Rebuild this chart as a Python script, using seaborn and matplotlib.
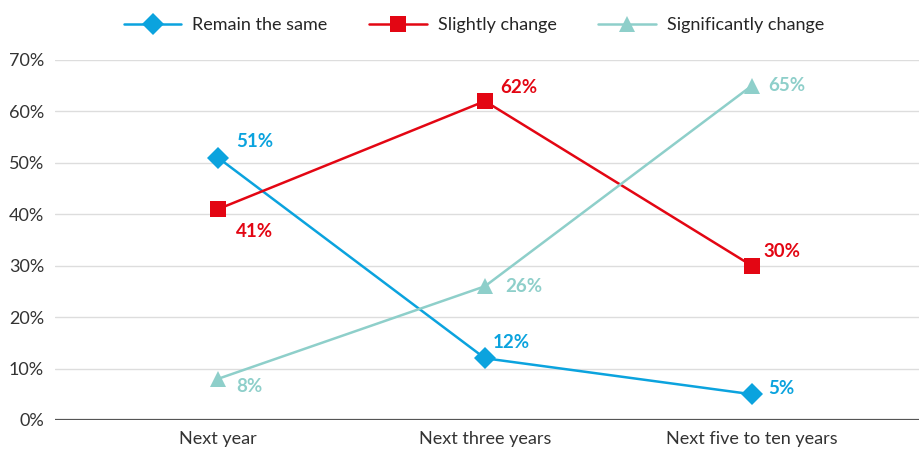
import numpy as np
import pandas as pd
import matplotlib
matplotlib.use("Agg")
import matplotlib.pyplot as plt
import seaborn as sns

# 数据
periods = ["Next year", "Next three years", "Next five to ten years"]
series_names = ["Remain the same", "Slightly change", "Significantly change"]
remain_same = [51, 12, 5]
slightly_change = [41, 62, 30]
significantly_change = [8, 26, 65]

colors = {"Remain the same": "#0BA3DE", "Slightly change": "#E30613", "Significantly change": "#8ECFCA"}
markers = {"Remain the same": "D", "Slightly change": "s", "Significantly change": "^"}

# 标签偏移 (像素)
label_offsets = {
    "Remain the same": [(18, 16), (8, 16), (16, 6)],
    "Slightly change": [(18, -22), (15, 14), (12, 14)],
    "Significantly change": [(18, -8), (20, 0), (16, 0)],
}

df = pd.DataFrame({
    "period": periods * 3,
    "series": np.repeat(series_names, 3),
    "value": remain_same + slightly_change + significantly_change,
})

sns.set_style("white")
plt.rcParams['font.family'] = ['Lato', 'DejaVu Sans']

fig = plt.figure(figsize=(9.2, 4.5), dpi=100)
ax = fig.add_axes([0.06, 0.0667, 0.94, 0.80])

sns.lineplot(data=df, x="period", y="value", hue="series", style="series",
             markers=markers, dashes=False, palette=colors, linewidth=1.8,
             markersize=11, markeredgewidth=0, ax=ax, legend=True, zorder=3)

for name, vals in zip(series_names, [remain_same, slightly_change, significantly_change]):
    for i, v in enumerate(vals):
        dx, dy = label_offsets[name][i]
        ax.annotate(f"{v}%", xy=(i, v), xytext=(dx, dy), textcoords="offset pixels",
                    ha="left", va="center", fontsize=13.5, fontweight="bold",
                    color=colors[name])

ax.set_xlim(-0.61, 2.63)
ax.set_ylim(0, 70)
ax.set_yticks(range(0, 71, 10))
ax.set_yticklabels([f"{t}%" for t in range(0, 71, 10)])
ax.grid(axis="y", color="#DDDDDD", linewidth=1)
ax.axhline(0, color="#555555", linewidth=1.6, zorder=2)
for s in ax.spines.values():
    s.set_visible(False)
ax.tick_params(axis="both", length=0, labelsize=13, colors="#333333", pad=8)
ax.set_xlabel("")
ax.set_ylabel("")

handles, labels = ax.get_legend_handles_labels()
ax.legend(handles, labels, loc="center", bbox_to_anchor=(0.515, 0.944),
          bbox_transform=fig.transFigure, ncol=3, frameon=False, fontsize=13,
          handlelength=3.2, handletextpad=0.6, columnspacing=2.3)

plt.savefig("out.png", dpi=100)
